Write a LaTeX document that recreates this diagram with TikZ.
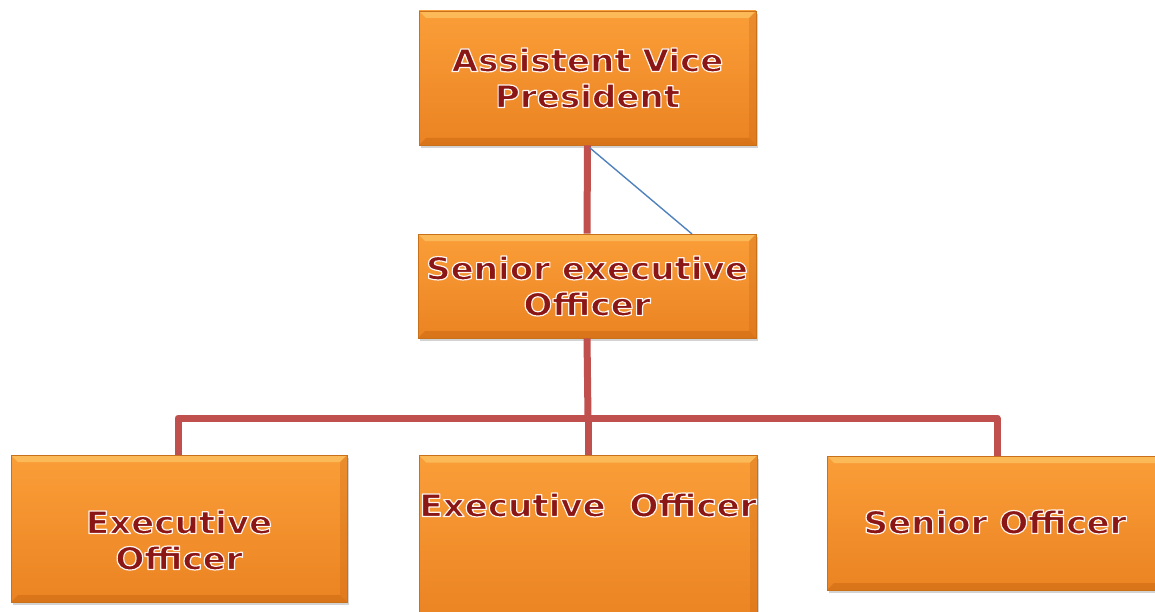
\documentclass[tikz,border=0pt]{standalone}
\usepackage{fontspec}
\setmainfont{DejaVu Sans}[BoldFeatures={FakeStretch=1.1}]
\usetikzlibrary{shadows}
\definecolor{boxtop}{HTML}{FA9E38}
\definecolor{boxbot}{HTML}{EB8322}
\definecolor{boxedge}{HTML}{C8701A}
\definecolor{bevlight}{HTML}{FCC060}
\definecolor{bevdark}{HTML}{C96712}
\definecolor{linkred}{HTML}{C0504D}
\definecolor{linkblue}{HTML}{4F81BD}
\definecolor{txtred}{HTML}{8A1616}
\newcommand{\otxt}[1]{\textcolor{txtred}{\special{pdf:literal 2 Tr 1.2 w 1 j 1 0.96 0.94 RG}#1\special{pdf:literal 0 Tr}}}
\begin{document}
\begin{tikzpicture}[x=1pt,y=1pt,
  box/.style={rectangle, draw=boxedge, line width=0.8pt, top color=boxtop, bottom color=boxbot,
    drop shadow={opacity=0.35, shadow xshift=2pt, shadow yshift=-3pt}, inner sep=0pt,
    path picture={
      \fill[bevlight, opacity=0.8] (path picture bounding box.north west) -- (path picture bounding box.north east)
        -- ([xshift=-7pt,yshift=-7pt]path picture bounding box.north east) -- ([xshift=7pt,yshift=-7pt]path picture bounding box.north west) -- cycle;
      \fill[bevdark, opacity=0.5] (path picture bounding box.south west) -- (path picture bounding box.south east)
        -- ([xshift=-7pt,yshift=7pt]path picture bounding box.south east) -- ([xshift=7pt,yshift=7pt]path picture bounding box.south west) -- cycle;
      \fill[bevdark, opacity=0.3] (path picture bounding box.north east) -- (path picture bounding box.south east)
        -- ([xshift=-7pt,yshift=7pt]path picture bounding box.south east) -- ([xshift=-7pt,yshift=-7pt]path picture bounding box.north east) -- cycle;
    }},
  txt/.style={font=\bfseries\fontsize{31}{36}\selectfont, align=center, inner sep=0pt},
  link/.style={draw=linkred, line width=7pt},
  thin/.style={draw=linkblue, line width=1.4pt}]
\useasboundingbox (0,0) rectangle (1155,-612);
% boxes
\node[box, minimum width=337, minimum height=134] (avp) at (587.5,-78) {};
\node[box, minimum width=338, minimum height=104] (seo) at (587,-286) {};
\node[box, minimum width=336, minimum height=147] (eoa) at (179,-528.5) {};
\node[box, minimum width=338, minimum height=165] (eob) at (588,-538) {};
\node[box, minimum width=338, minimum height=134] (so) at (996,-523) {};
% connectors
\coordinate (j) at (588,-418);
\coordinate (jl) at (178,-418);
\coordinate (jr) at (997,-418);
\coordinate (bs) at (590,-148);
\coordinate (be) at (692,-234);
\path[link] (avp.south) -- (seo.north);
\path[link] (seo.south) -- (j);
\path[link, line join=round] (eoa.north -| jl) -- (jl) -- (jr) -- (so.north -| jr);
\path[link] (j) -- (eob.north);
\path[thin] (bs) -- (be);
% texts
\node[txt] (avpt) at (587.5,-78) {\otxt{Assistent Vice}\\\otxt{President}};
\node[txt] (seot) at (587,-286) {\otxt{Senior executive}\\\otxt{Officer}};
\node[txt] (eoat) at (179,-540) {\otxt{Executive}\\\otxt{Officer}};
\node[txt] (eobt) at (588,-505) {\otxt{Executive\ \ Officer}};
\node[txt] (sot) at (995,-522) {\otxt{Senior Officer}};
\end{tikzpicture}
\end{document}
